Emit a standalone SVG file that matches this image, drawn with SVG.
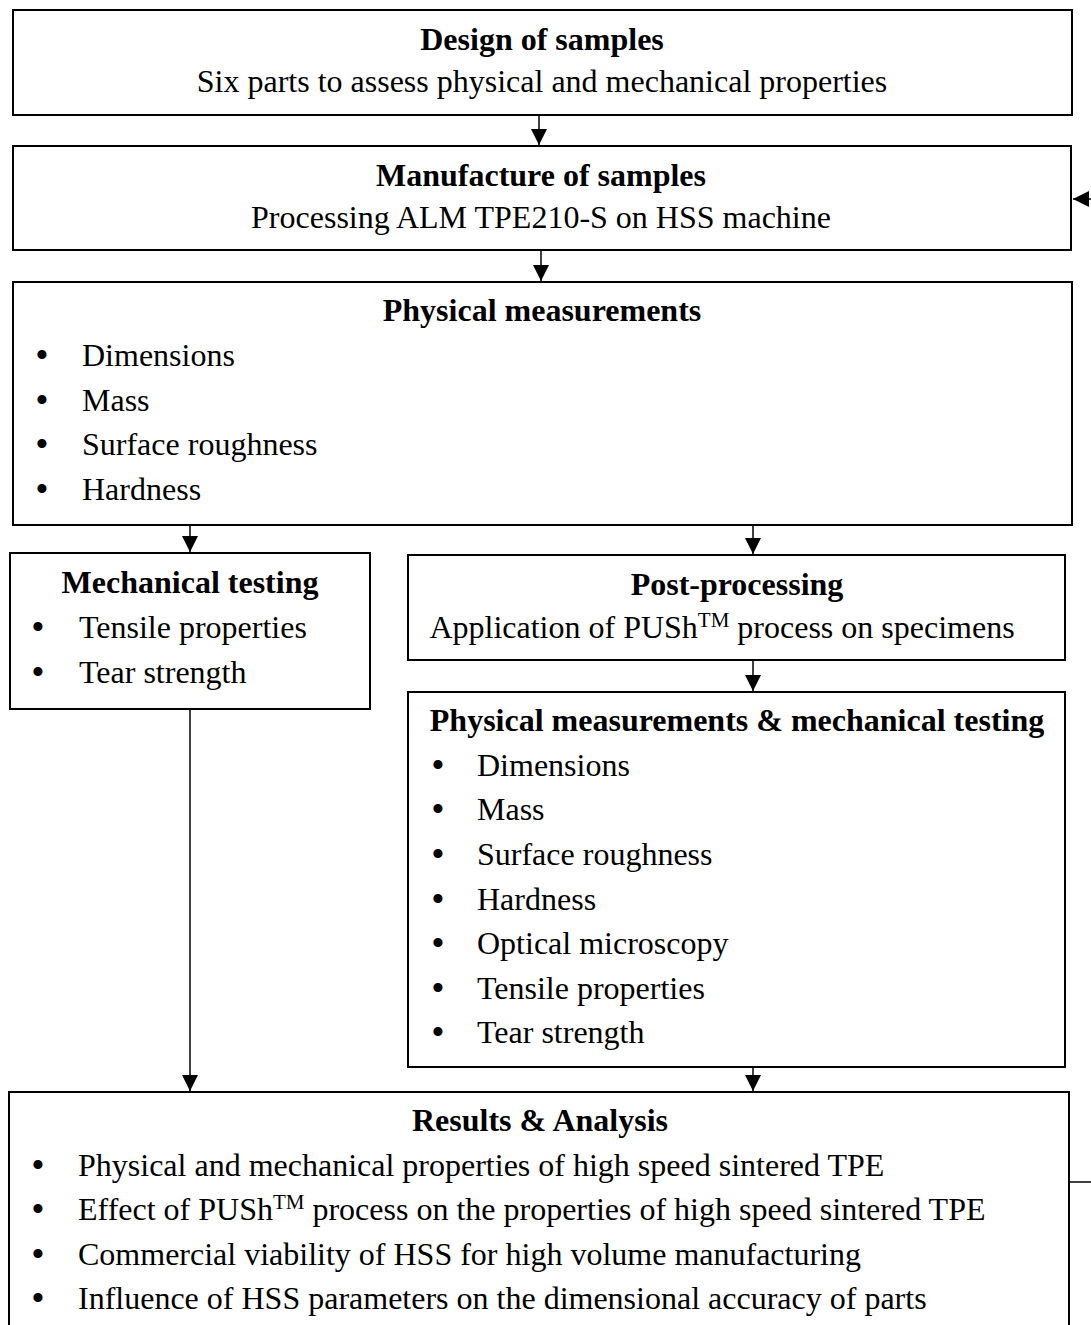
<svg xmlns="http://www.w3.org/2000/svg" width="1091" height="1325" viewBox="0 0 1091 1325">
<style>
.box{fill:#fff;stroke:#000;stroke-width:2}
text{font-family:"Liberation Serif","Times New Roman",serif;font-size:32px;fill:#000}
.t{font-weight:bold;text-anchor:middle}
.c{text-anchor:middle}
.b{text-anchor:middle;font-size:38px}
.sup{font-size:21px}
.con{stroke:#000;stroke-width:1.5;fill:none}
</style>
<defs>
<marker id="ah" markerUnits="userSpaceOnUse" markerWidth="16" markerHeight="16" viewBox="0 0 16 16" refX="16" refY="8" orient="auto">
<path d="M0,0 L16,8 L0,16 Z" fill="#000"/>
</marker>
</defs>
<rect width="1091" height="1325" fill="#fff"/>
<g id="connectors">
<line class="con" x1="539" y1="115" x2="539" y2="145" marker-end="url(#ah)"/>
<line class="con" x1="541" y1="250" x2="541" y2="281" marker-end="url(#ah)"/>
<line class="con" x1="190" y1="525" x2="190" y2="552" marker-end="url(#ah)"/>
<line class="con" x1="753" y1="525" x2="753" y2="554" marker-end="url(#ah)"/>
<line class="con" x1="753" y1="660" x2="753" y2="691" marker-end="url(#ah)"/>
<line class="con" x1="190" y1="709" x2="190" y2="1091" marker-end="url(#ah)"/>
<line class="con" x1="753" y1="1067" x2="753" y2="1091" marker-end="url(#ah)"/>
<line class="con" x1="1095" y1="199" x2="1073" y2="199" marker-end="url(#ah)"/>
<line class="con" x1="1069" y1="1182" x2="1095" y2="1182"/>
</g>
<g id="design">
<rect class="box" x="13" y="10" width="1059" height="105"/>
<text class="t" x="542" y="50">Design of samples</text>
<text class="c" x="542" y="92">Six parts to assess physical and mechanical properties</text>
</g>
<g id="manufacture">
<rect class="box" x="13" y="146" width="1058" height="104"/>
<text class="t" x="541" y="186">Manufacture of samples</text>
<text class="c" x="541" y="228">Processing ALM TPE210-S on HSS machine</text>
</g>
<g id="physical">
<rect class="box" x="13" y="282" width="1059" height="243"/>
<text class="t" x="542" y="321">Physical measurements</text>
<text class="b" x="42" y="368">•</text><text x="82" y="366">Dimensions</text>
<text class="b" x="42" y="413">•</text><text x="82" y="411">Mass</text>
<text class="b" x="42" y="457">•</text><text x="82" y="455">Surface roughness</text>
<text class="b" x="42" y="502">•</text><text x="82" y="500">Hardness</text>
</g>
<g id="mechanical">
<rect class="box" x="10" y="553" width="360" height="156"/>
<text class="t" x="190" y="593">Mechanical testing</text>
<text class="b" x="38" y="640">•</text><text x="79" y="638">Tensile properties</text>
<text class="b" x="38" y="685">•</text><text x="79" y="683">Tear strength</text>
</g>
<g id="postprocessing">
<rect class="box" x="408" y="555" width="657" height="105"/>
<text class="t" x="737" y="595">Post-processing</text>
<text class="c" x="722" y="638">Application of PUSh<tspan class="sup" dy="-11">TM</tspan><tspan dy="11"> process on specimens</tspan></text>
</g>
<g id="physmech">
<rect class="box" x="408" y="692" width="657" height="375"/>
<text class="t" x="737" y="731">Physical measurements &amp; mechanical testing</text>
<text class="b" x="438" y="778">•</text><text x="477" y="776">Dimensions</text>
<text class="b" x="438" y="822">•</text><text x="477" y="820">Mass</text>
<text class="b" x="438" y="867">•</text><text x="477" y="865">Surface roughness</text>
<text class="b" x="438" y="912">•</text><text x="477" y="910">Hardness</text>
<text class="b" x="438" y="956">•</text><text x="477" y="954">Optical microscopy</text>
<text class="b" x="438" y="1001">•</text><text x="477" y="999">Tensile properties</text>
<text class="b" x="438" y="1045">•</text><text x="477" y="1043">Tear strength</text>
</g>
<g id="results">
<rect class="box" x="9" y="1092" width="1060" height="260"/>
<text class="t" x="540" y="1131">Results &amp; Analysis</text>
<text class="b" x="38" y="1178">•</text><text x="78" y="1176">Physical and mechanical properties of high speed sintered TPE</text>
<text class="b" x="38" y="1222">•</text><text x="78" y="1220">Effect of PUSh<tspan class="sup" dy="-11">TM</tspan><tspan dy="11"> process on the properties of high speed sintered TPE</tspan></text>
<text class="b" x="38" y="1267">•</text><text x="78" y="1265">Commercial viability of HSS for high volume manufacturing</text>
<text class="b" x="38" y="1311">•</text><text x="78" y="1309">Influence of HSS parameters on the dimensional accuracy of parts</text>
</g>
</svg>
